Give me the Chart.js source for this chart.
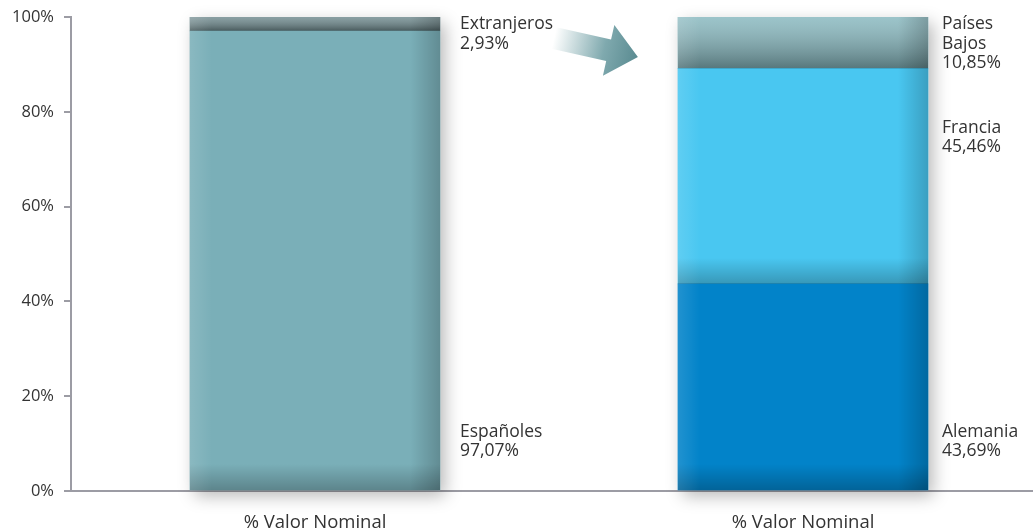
<!DOCTYPE html>
<html>
<head>
<meta charset="utf-8">
<script src="https://cdn.jsdelivr.net/npm/chart.js@4.4.0/dist/chart.umd.min.js"></script>
<style>
  html, body { margin: 0; padding: 0; background: #fff; overflow: hidden; }
  #wrap { width: 1047px; height: 530px; }
</style>
</head>
<body>
<div id="wrap"><canvas id="chart"></canvas></div>
<script>
// chart data
const categories = ['% Valor Nominal', '% Valor Nominal'];
const espanoles = [97.07, null];
const extranjeros = [2.93, null];
const alemania = [null, 43.69];
const francia = [null, 45.46];
const paisesBajos = [null, 10.85];
const yTicks = [0, 20, 40, 60, 80, 100];

// text beside each segment, and the value where its first line sits
const labelNames = [['Españoles'], ['Extranjeros'], ['Alemania'], ['Francia'], ['Países', 'Bajos']];
const labelAt = [12.5, 98.5, 12.5, 76.6, 98.5];

const FONT = '"Open Sans", "Noto Sans", sans-serif';

function fmt(v) {
  return v.toFixed(2).replace('.', ',') + '%';
}

// soft drop shadow under each full column
const shadowPlugin = {
  id: 'shadow',
  beforeDatasetsDraw(chart) {
    const ctx = chart.ctx;
    categories.forEach((c, idx) => {
      let top = Infinity, bottom = -Infinity, left = 0, right = 0;
      chart.data.datasets.forEach((ds, di) => {
        const el = chart.getDatasetMeta(di).data[idx];
        if (!el || ds.data[idx] == null) return;
        top = Math.min(top, el.y);
        bottom = Math.max(bottom, el.base);
        left = el.x - el.width / 2;
        right = el.x + el.width / 2;
      });
      if (!isFinite(top)) return;
      ctx.save();
      ctx.shadowColor = 'rgba(0,0,0,0.28)';
      ctx.shadowBlur = 16;
      ctx.shadowOffsetX = 5;
      ctx.shadowOffsetY = 6;
      ctx.fillStyle = '#ffffff';
      ctx.fillRect(left, top, right - left, bottom - top);
      ctx.restore();
    });
  },
  afterDatasetsDraw(chart) {
    const ctx = chart.ctx;
    chart.data.datasets.forEach((ds, di) => {
      chart.getDatasetMeta(di).data.forEach((el, idx) => {
        if (ds.data[idx] == null) return;
        const l = el.x - el.width / 2, r = el.x + el.width / 2;
        const t = el.y, b = el.base, h = b - t;
        ctx.save();
        // vertical shading
        let g = ctx.createLinearGradient(0, t, 0, b);
        if (ds.fullShade) {
          g.addColorStop(0, 'rgba(255,255,255,0.18)');
          g.addColorStop(1, 'rgba(0,0,0,0.35)');
        } else {
          const k = Math.max(0, 1 - 26 / h);
          g.addColorStop(0, 'rgba(0,0,0,0)');
          g.addColorStop(k, 'rgba(0,0,0,0)');
          g.addColorStop(1, 'rgba(0,0,0,0.24)');
        }
        ctx.fillStyle = g;
        ctx.fillRect(l, t, r - l, h);
        // left light edge
        g = ctx.createLinearGradient(l, 0, l + 22, 0);
        g.addColorStop(0, 'rgba(255,255,255,0.12)');
        g.addColorStop(1, 'rgba(255,255,255,0)');
        ctx.fillStyle = g;
        ctx.fillRect(l, t, 22, h);
        // right dark edge
        g = ctx.createLinearGradient(r - 30, 0, r, 0);
        g.addColorStop(0, 'rgba(0,0,0,0)');
        g.addColorStop(1, 'rgba(0,0,0,0.2)');
        ctx.fillStyle = g;
        ctx.fillRect(r - 30, t, 30, h);
        ctx.restore();
      });
    });
  },
  afterDraw(chart) {
    const ctx = chart.ctx;
    const y = chart.scales.y;
    // segment labels
    ctx.save();
    ctx.font = '17.5px ' + FONT;
    ctx.fillStyle = '#333333';
    ctx.textAlign = 'left';
    ctx.textBaseline = 'middle';
    const gaps = [20, 14];
    chart.data.datasets.forEach((ds, di) => {
      chart.getDatasetMeta(di).data.forEach((el, idx) => {
        if (ds.data[idx] == null) return;
        const x = el.x + el.width / 2 + gaps[idx];
        const lines = labelNames[di].concat([fmt(ds.data[idx])]);
        let py = y.getPixelForValue(labelAt[di]);
        lines.forEach(line => {
          ctx.fillText(line, x, py);
          py += 19.5;
        });
      });
    });
    ctx.restore();

    // decorative arrow between the columns
    ctx.save();
    ctx.translate(554, 38);
    ctx.rotate(12.7 * Math.PI / 180);
    const g = ctx.createLinearGradient(0, 0, 86, 0);
    g.addColorStop(0, 'rgba(255,255,255,1)');
    g.addColorStop(0.6, '#7fa9ae');
    g.addColorStop(1, '#5a8b91');
    ctx.fillStyle = g;
    ctx.beginPath();
    ctx.moveTo(0, -11);
    ctx.lineTo(56, -11);
    ctx.lineTo(56, -26);
    ctx.lineTo(86, 0);
    ctx.lineTo(56, 26);
    ctx.lineTo(56, 11);
    ctx.lineTo(0, 11);
    ctx.closePath();
    ctx.fill();
    ctx.restore();
  }
};

new Chart(document.getElementById('chart'), {
  type: 'bar',
  data: {
    labels: categories,
    datasets: [
      { label: 'Españoles', data: espanoles, backgroundColor: '#7aafb8' },
      { label: 'Extranjeros', data: extranjeros, backgroundColor: '#6f8a8e', fullShade: true },
      { label: 'Alemania', data: alemania, backgroundColor: '#0283c9' },
      { label: 'Francia', data: francia, backgroundColor: '#49c7f1' },
      { label: 'Países Bajos', data: paisesBajos, backgroundColor: '#86b7be', fullShade: true }
    ]
  },
  options: {
    responsive: true,
    maintainAspectRatio: false,
    animation: false,
    layout: { padding: { top: 17, left: 0, right: 0, bottom: 0 } },
    datasets: { bar: { barThickness: 250, borderWidth: 0 } },
    plugins: {
      legend: { display: false },
      tooltip: { enabled: false }
    },
    scales: {
      x: {
        stacked: true,
        grid: { display: false, drawTicks: false },
        border: { display: true, color: '#9c9ca4', width: 2 },
        ticks: { color: '#333333', padding: 21, font: { family: FONT, size: 18.5 } },
        afterFit(scale) { scale.height = 39; scale.paddingLeft = 0; scale.paddingRight = 0; }
      },
      y: {
        stacked: true,
        min: 0,
        max: 100,
        afterBuildTicks(scale) { scale.ticks = yTicks.map(v => ({ value: v })); },
        grid: { drawOnChartArea: false, drawTicks: true, tickLength: 7, color: '#9c9ca4', lineWidth: 2 },
        border: { display: true, color: '#9c9ca4', width: 2 },
        ticks: {
          color: '#333333',
          padding: 10,
          font: { family: FONT, size: 16.5 },
          callback: v => v + '%'
        },
        afterFit(scale) { scale.width = 71; scale.paddingTop = 0; scale.paddingBottom = 0; }
      }
    }
  },
  plugins: [shadowPlugin]
});
</script>
</body>
</html>
